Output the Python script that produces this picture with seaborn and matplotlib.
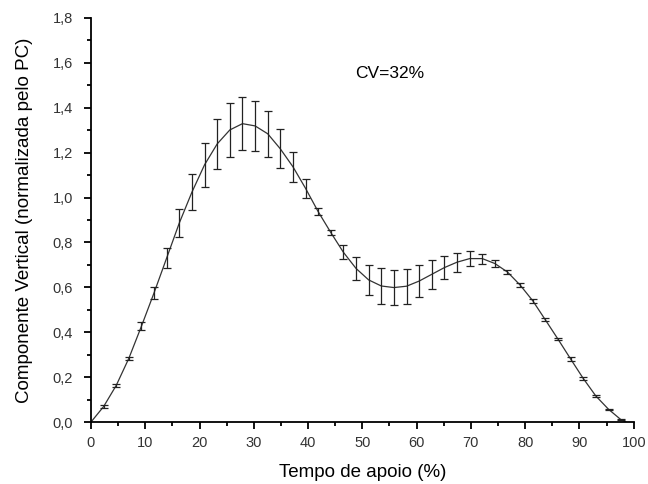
import matplotlib
matplotlib.use("Agg")
import matplotlib.pyplot as plt
import seaborn as sns
import pandas as pd
from matplotlib.ticker import MultipleLocator, FuncFormatter

# Stance time (%) at each error-bar point
tempo = [2.33, 4.65, 6.98, 9.30, 11.63, 13.95, 16.28, 18.60, 20.93, 23.26,
         25.58, 27.91, 30.23, 32.56, 34.88, 37.21, 39.53, 41.86, 44.19, 46.51,
         48.84, 51.16, 53.49, 55.81, 58.14, 60.47, 62.79, 65.12, 67.44, 69.77,
         72.09, 74.42, 76.74, 79.07, 81.40, 83.72, 86.05, 88.37, 90.70, 93.02,
         95.35, 97.67]
# Mean vertical component (normalized by body weight)
media = [0.069, 0.163, 0.284, 0.427, 0.576, 0.731, 0.887, 1.024, 1.146, 1.239,
         1.301, 1.329, 1.319, 1.284, 1.217, 1.137, 1.041, 0.937, 0.844, 0.756,
         0.684, 0.633, 0.606, 0.599, 0.605, 0.628, 0.658, 0.688, 0.712, 0.728,
         0.728, 0.706, 0.668, 0.610, 0.540, 0.455, 0.369, 0.281, 0.194, 0.116,
         0.057, 0.010]
# Standard deviation (error bar half-length)
desvio = [0.005, 0.005, 0.007, 0.018, 0.026, 0.046, 0.062, 0.080, 0.097, 0.110,
          0.119, 0.118, 0.113, 0.102, 0.086, 0.066, 0.042, 0.015, 0.011, 0.031,
          0.052, 0.066, 0.078, 0.078, 0.077, 0.072, 0.064, 0.052, 0.043, 0.032,
          0.022, 0.016, 0.010, 0.008, 0.009, 0.007, 0.005, 0.007, 0.006, 0.003,
          0.003, 0.002]
# Curve start and end (contact and toe-off)
inicio_x, inicio_y = [0.0], [0.0]
fim_x, fim_y = [98.6], [0.0]

x_label = "Tempo de apoio (%)"
y_label = "Componente Vertical (normalizada pelo PC)"
anotacao = "CV=32%"

sns.set_theme(style="ticks")
plt.rcParams["font.family"] = ["Liberation Sans", "DejaVu Sans"]

curve = pd.DataFrame({
    "x": inicio_x + tempo + fim_x,
    "y": inicio_y + media + fim_y,
})

fig = plt.figure(figsize=(6.48, 4.84), dpi=100)
ax = fig.add_axes([0.1404, 0.128, 0.8376, 0.835])

sns.lineplot(data=curve, x="x", y="y", ax=ax, color="#333333", linewidth=0.9,
             sort=False, estimator=None)
ax.errorbar(tempo, media, yerr=desvio, fmt="none", ecolor="#222222",
            elinewidth=0.9, capsize=2.6, capthick=0.9)

ax.set_xlim(0, 100)
ax.set_ylim(0, 1.8)
ax.xaxis.set_major_locator(MultipleLocator(10))
ax.xaxis.set_minor_locator(MultipleLocator(5))
ax.yaxis.set_major_locator(MultipleLocator(0.2))
ax.yaxis.set_minor_locator(MultipleLocator(0.1))
ax.yaxis.set_major_formatter(FuncFormatter(lambda v, p: f"{v:.1f}".replace(".", ",")))
ax.xaxis.set_major_formatter(FuncFormatter(lambda v, p: f"{v:.0f}"))

sns.despine(ax=ax)
for s in ["left", "bottom"]:
    ax.spines[s].set_linewidth(1.3)
    ax.spines[s].set_color("black")
ax.tick_params(which="major", direction="out", length=5, width=1.3,
               labelsize=10.5, colors="black", pad=5)
ax.tick_params(which="minor", direction="out", length=3, width=1.3, colors="black")
ax.tick_params(axis="y", which="major", pad=8)
for lbl in ax.get_xticklabels() + ax.get_yticklabels():
    lbl.set_color("#333333")

ax.set_xlabel(x_label, fontsize=13.5, labelpad=10, color="black")
ax.set_ylabel(y_label, fontsize=13.5, labelpad=14, color="black")

ax.text(55.0, 1.551, anotacao, fontsize=12.5, ha="center", va="center", color="black")

fig.savefig("out.png", dpi=100)
